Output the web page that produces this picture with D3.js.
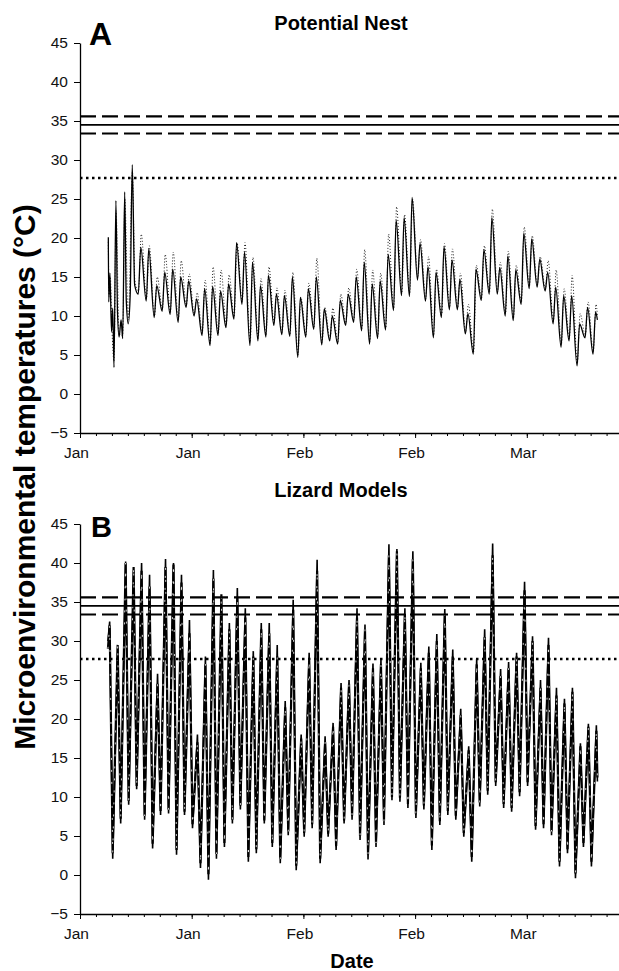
<!DOCTYPE html>
<meta charset="utf-8">
<html>
<head>
<style>
    body { margin: 0; background: #fff; }
    text { font-family: Arial, "Liberation Sans", sans-serif; }
</style>
<script src="https://d3js.org/d3.v7.min.js"></script>
</head>
<body>
<script>

// ---- data (days counted from the first axis tick) ----
var tickLabels = ["Jan", "Jan", "Feb", "Feb", "Mar"];
var majorTickDays = [0, 14, 28, 42, 56];
var minorTickDays = d3.range(0, 70, 2);
var yTicks = [-5, 0, 5, 10, 15, 20, 25, 30, 35, 40, 45];

// reference temperatures drawn as horizontal lines
var refDashed = [35.6, 33.4];
var refSolid = [34.5];
var refDotted = [27.7];

// Panel A - potential nest, first (erratic) days as [day, temp]
var nestSolidEarly = [[3.55,20.1],[3.6,11.8],[3.75,15.5],[3.95,8],[4.1,11],[4.26,3.4],[4.5,24.8],[4.7,10.5],[4.9,7.3],[5.15,9.5],[5.35,7.1],[5.6,25.9],[5.8,12],[6.05,9.0],[6.3,13],[6.55,29.4],[6.85,14]];
var nestDotEarly = [[3.55,19.5],[3.65,12.5],[3.8,15],[4.0,8.5],[4.26,4.2],[4.52,23.5],[4.9,7.8],[5.35,7.5],[5.62,25],[6.05,9.5],[6.57,28.5],[6.88,14.5]];

// Panel A - daily minima / maxima from day 7 to day 64
var nestSolidMin = [12.8,11.9,9.8,10.6,10.2,9.2,11.1,10.0,7.5,6.2,7.5,8.5,9.6,11.5,6.2,6.8,7.3,8.8,7.6,7.4,4.7,7.3,8.3,6.3,6.8,6.4,8.8,9.2,8.1,6.4,7.1,8.2,10.7,12.6,12.5,14.6,11.9,7.2,9.8,10.8,10.8,7.7,5.1,12.0,12.8,12.8,10.0,9.4,11.5,13.5,13.7,13.2,9.0,6.0,6.8,3.6,7.2,5.1];
var nestSolidMax = [18.8,18.6,13.9,15.6,16.0,15.0,14.5,12.2,13.5,13.8,13.2,14.1,19.4,18.2,16.9,13.9,15.2,12.8,12.6,15.0,12.4,13.5,15.0,10.9,10.0,12.0,12.8,15.0,16.9,14.1,14.5,17.9,22.3,22.6,25.2,19.3,16.3,15.6,18.9,17.2,14.7,10.3,16.0,18.5,22.6,16.2,17.7,15.9,20.6,19.9,17.3,15.6,13.7,12.6,12.6,9.0,11.1,10.5];
var nestDotMin = [13.2,12.2,10.0,10.9,10.5,9.5,11.4,10.3,7.8,6.5,7.8,8.8,9.9,11.8,6.6,7.1,7.6,9.1,7.9,7.7,5.0,7.6,8.6,6.6,7.1,6.7,9.1,9.5,8.4,6.7,7.4,8.5,11.0,12.9,12.8,14.9,12.2,7.5,10.1,11.1,11.1,8.0,5.4,12.3,13.1,13.1,10.3,9.7,11.8,13.8,14.0,13.5,9.3,6.3,7.1,3.9,7.5,5.4];
var nestDotMax = [20.5,19.0,15.0,17.9,18.2,17.1,15.4,13.0,14.6,16.3,15.9,15.3,19.4,19.4,17.5,14.8,16.3,13.6,13.3,15.6,12.4,14.2,17.4,11.1,11.0,12.8,13.6,16.0,18.5,15.9,15.5,20.5,24.0,23.0,25.0,19.8,17.6,16.0,19.3,18.6,15.5,11.5,16.5,19.0,23.7,16.9,18.3,16.5,21.4,20.3,17.6,17.1,15.9,13.5,15.2,10.3,11.8,11.5];
var nestEnd = [[64.85, 9.5], [64.85, 10.0]];

// Panel B - lizard models, daily maxima from day 3 to day 64, then the minimum that follows
var lizSolidMax = [32.5,29.1,40.2,38.9,40.0,38.5,25.8,40.5,40.0,38.5,32.7,18.0,28.0,39.1,35.5,32.3,36.8,34.2,28.7,32.3,32.3,29.5,22.3,35.3,18.0,28.5,40.4,17.8,19.5,24.6,25.0,34.2,32.1,27.1,27.6,42.4,41.8,34.2,41.5,27.2,29.3,30.9,34.1,28.9,21.3,16.5,27.7,31.5,42.5,26.4,27.3,28.5,37.6,30.6,25.0,30.4,24.0,22.6,24.0,16.9,19.4,19.2];
var lizSolidMin = [2.1,6.6,9.0,11.0,7.1,3.4,7.7,7.9,2.6,7.7,6.0,0.9,-0.6,2.1,3.6,6.6,8.4,1.7,2.8,6.6,3.6,1.5,5.1,0.6,4.9,6.0,1.5,4.9,3.2,6.6,7.1,4.5,2.0,3.6,6.4,9.6,9.4,8.6,7.3,8.4,3.2,6.4,7.7,7.1,4.9,1.7,8.8,10.3,11.4,8.6,8.1,10.1,11.4,5.8,6.0,5.1,1.1,2.8,-0.4,3.6,1.1,12.0];
var lizDashMax = [32.0,29.5,40.0,39.5,39.0,37.0,24.5,39.5,39.8,37.5,31.0,17.0,27.0,38.0,36.0,31.5,35.5,33.0,28.0,31.5,31.0,28.0,21.5,34.0,17.5,27.5,39.0,17.0,19.0,24.0,24.5,33.0,31.5,26.5,27.0,41.0,41.5,33.5,40.5,26.5,28.5,30.0,33.5,28.0,20.5,16.0,27.0,30.5,41.0,25.5,26.5,28.0,36.5,30.0,24.0,29.5,23.0,22.0,23.5,16.5,19.0,18.5];
var lizDashMin = [2.8,7.2,9.5,11.4,7.6,4.0,8.2,8.4,3.2,8.1,6.5,1.5,0.1,2.7,4.1,7.1,8.9,2.3,3.3,7.0,4.1,2.1,5.6,1.2,5.4,6.5,2.1,5.3,3.7,7.0,7.6,5.0,2.6,4.1,6.9,10.0,9.9,9.1,7.8,8.9,3.8,6.9,8.2,7.6,5.4,2.3,9.3,10.8,11.9,9.1,8.6,10.6,11.9,6.3,6.5,5.6,1.7,3.3,0.2,4.1,1.7,12.5];
var lizStart = [[3.5, 30.0], [3.5, 29.0]];

// ---- svg ----
var width = 619, height = 971;
var svg = d3.select("body").append("svg")
    .attr("width", width)
    .attr("height", height);

var x = d3.scaleLinear().domain([0, 70]).range([80, 638.5]);
var yA = d3.scaleLinear().domain([-5, 45]).range([433, 43]);
var yB = d3.scaleLinear().domain([-5, 45]).range([914, 524]);

// build [day, temp] lists from the daily min / max arrays
function nestPoints(early, mins, maxs, minPhase, maxPhase, end) {
    var pts = early.slice();
    mins.forEach(function(m, i) {
        pts.push([7 + i + minPhase, m]);
        pts.push([7 + i + maxPhase, maxs[i]]);
    });
    pts.push(end);
    return pts;
}

function lizardPoints(start, maxs, mins) {
    var pts = [start];
    maxs.forEach(function(m, i) {
        pts.push([3 + i + 0.72, m]);
        pts.push([i == maxs.length - 1 ? 64.85 : 3 + i + 1.1, mins[i]]);
    });
    return pts;
}

function drawAxes(y, yAxisY) {
    var g = svg.append("g");

    // minor ticks every 2 days
    g.append("g")
        .attr("transform", "translate(0," + yAxisY + ")")
        .call(d3.axisBottom(x).tickValues(minorTickDays).tickSize(3).tickSizeOuter(0).tickFormat(""))
        .call(function(a) { a.select(".domain").attr("stroke-width", 1.3); });

    // major ticks with month labels
    g.append("g")
        .attr("transform", "translate(0," + yAxisY + ")")
        .call(d3.axisBottom(x).tickValues(majorTickDays).tickSize(5).tickSizeOuter(0).tickPadding(9)
            .tickFormat(function(d) { return tickLabels[majorTickDays.indexOf(d)]; }))
        .call(function(a) {
            a.select(".domain").remove();
            a.selectAll("text").attr("font-size", 15.5).attr("dx", -4).attr("fill", "#111");
        });

    g.append("g")
        .attr("transform", "translate(80,0)")
        .call(d3.axisLeft(y).tickValues(yTicks).tickSize(6).tickSizeOuter(0).tickPadding(6))
        .call(function(a) {
            a.select(".domain").attr("stroke-width", 1.3);
            a.selectAll("text").attr("font-size", 15.5).attr("fill", "#111");
        });
}

function drawRefLines(y) {
    var g = svg.append("g");
    refDashed.forEach(function(v) {
        g.append("line").attr("x1", 80).attr("x2", width)
            .attr("y1", y(v)).attr("y2", y(v))
            .attr("stroke", "#000").attr("stroke-width", 2.2)
            .attr("stroke-dasharray", "16,6");
    });
    refSolid.forEach(function(v) {
        g.append("line").attr("x1", 80).attr("x2", width)
            .attr("y1", y(v)).attr("y2", y(v))
            .attr("stroke", "#000").attr("stroke-width", 1.8);
    });
    refDotted.forEach(function(v) {
        g.append("line").attr("x1", 80).attr("x2", width)
            .attr("y1", y(v)).attr("y2", y(v))
            .attr("stroke", "#000").attr("stroke-width", 2.5)
            .attr("stroke-dasharray", "2.5,3.5");
    });
}

function lineFor(y, curve) {
    return d3.line()
        .x(function(d) { return x(d[0]); })
        .y(function(d) { return y(d[1]); })
        .curve(curve);
}

// ---- Panel A ----
drawAxes(yA, 433);

var lineA = lineFor(yA, d3.curveMonotoneX);
svg.append("path")
    .datum(nestPoints(nestDotEarly, nestDotMin, nestDotMax, 0.33, 0.68, nestEnd[1]))
    .attr("fill", "none").attr("stroke", "#222").attr("stroke-width", 1)
    .attr("stroke-dasharray", "1,2")
    .attr("d", lineA);
svg.append("path")
    .datum(nestPoints(nestSolidEarly, nestSolidMin, nestSolidMax, 0.3, 0.62, nestEnd[0]))
    .attr("fill", "none").attr("stroke", "#000").attr("stroke-width", 1.3)
    .attr("d", lineA);

drawRefLines(yA);

// ---- Panel B ----
drawAxes(yB, 914);

// spiky hourly series: straight segments between the daily extremes
var lineB = lineFor(yB, d3.curveLinear);
var dashPts = lizardPoints(lizStart[1], lizDashMax, lizDashMin);
svg.append("path")
    .datum(lizardPoints(lizStart[0], lizSolidMax, lizSolidMin))
    .attr("fill", "none").attr("stroke", "#000").attr("stroke-width", 1.6)
    .attr("d", lineB);
svg.append("path")
    .datum(dashPts)
    .attr("fill", "none").attr("stroke", "#000").attr("stroke-width", 2.2)
    .attr("d", lineB);
svg.append("path")
    .datum(dashPts)
    .attr("fill", "none").attr("stroke", "#fff").attr("stroke-width", 0.8)
    .attr("stroke-dasharray", "2,10")
    .attr("d", lineB);

drawRefLines(yB);

// ---- titles ----
svg.append("text").attr("x", 341).attr("y", 30).attr("text-anchor", "middle")
    .attr("font-size", 20).attr("font-weight", "bold").text("Potential Nest");
svg.append("text").attr("x", 341).attr("y", 497).attr("text-anchor", "middle")
    .attr("font-size", 20).attr("font-weight", "bold").text("Lizard Models");
svg.append("text").attr("x", 89).attr("y", 45)
    .attr("font-size", 32).attr("font-weight", "bold").text("A");
svg.append("text").attr("x", 91).attr("y", 537)
    .attr("font-size", 29).attr("font-weight", "bold").text("B");
svg.append("text").attr("x", 352).attr("y", 968).attr("text-anchor", "middle")
    .attr("font-size", 20).attr("font-weight", "bold").text("Date");
svg.append("text")
    .attr("transform", "translate(35,477) rotate(-90)")
    .attr("text-anchor", "middle")
    .attr("font-size", 30).attr("font-weight", "bold")
    .text("Microenvironmental temperatures (°C)");

</script>
</body>
</html>
